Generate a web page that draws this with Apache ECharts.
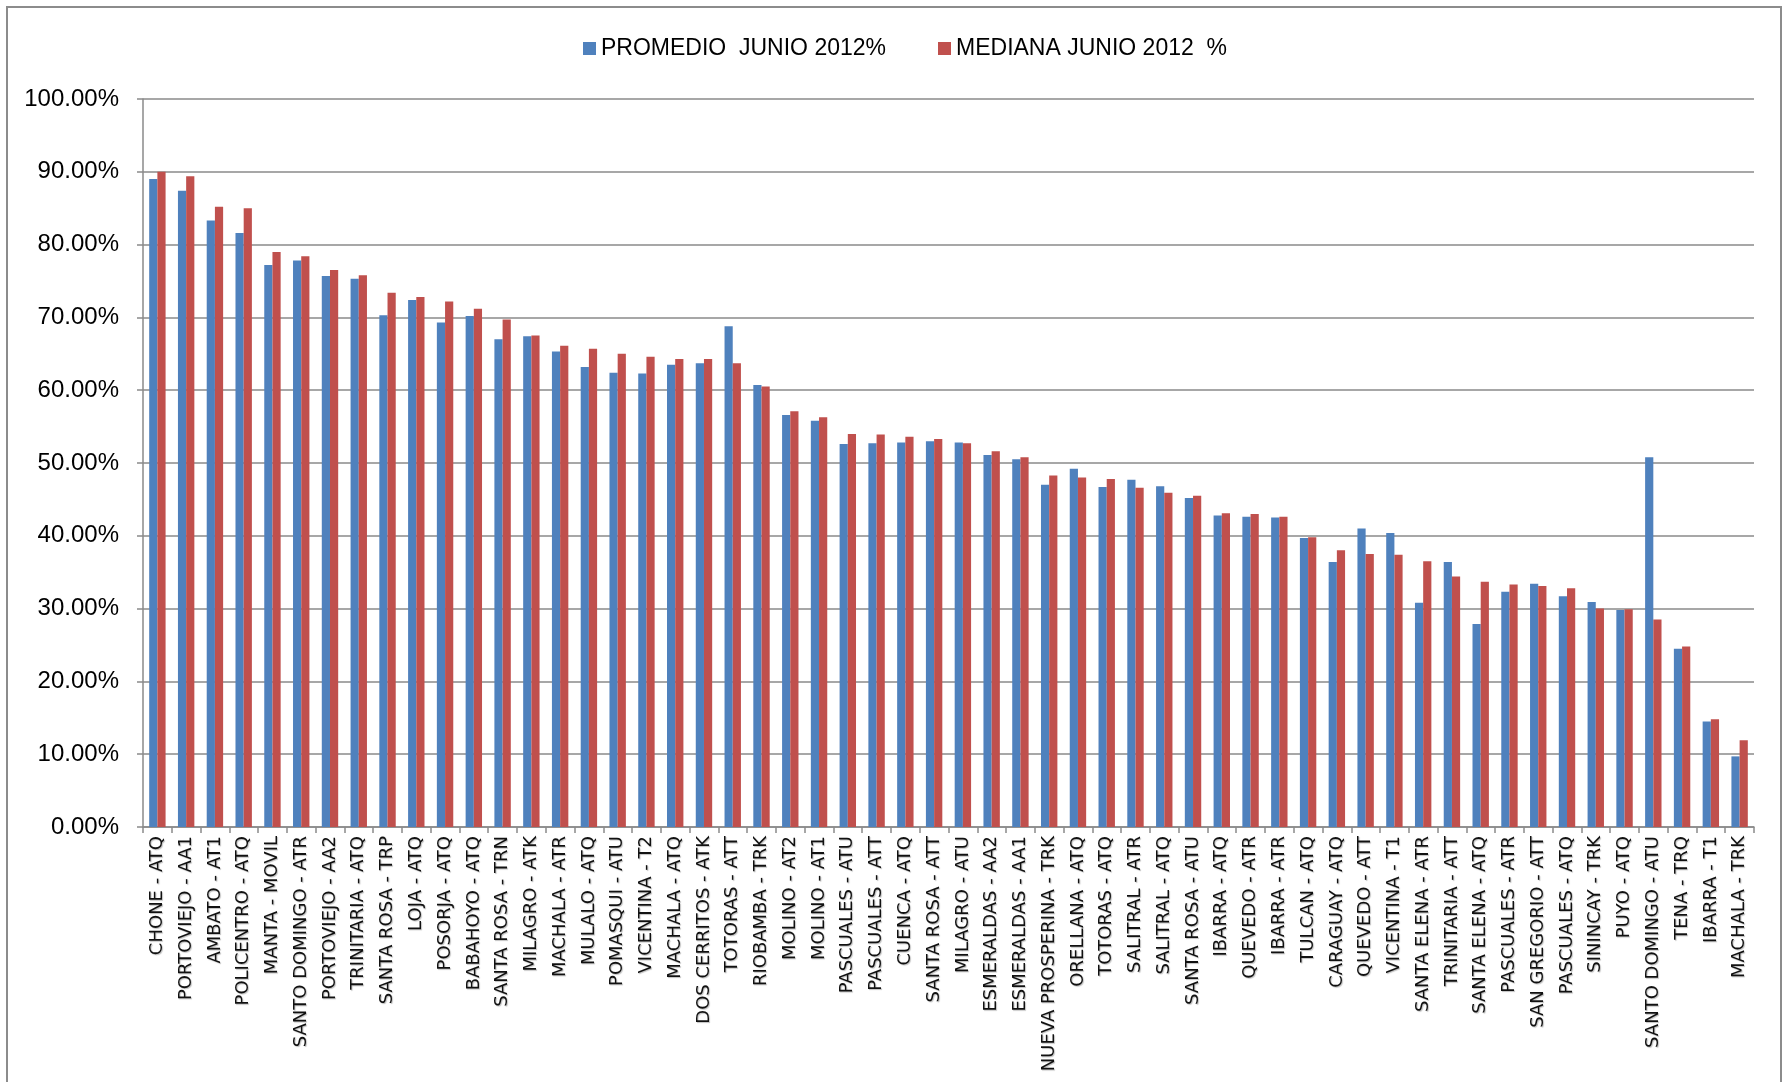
<!DOCTYPE html>
<html>
<head>
<meta charset="utf-8">
<script src="https://cdn.jsdelivr.net/npm/echarts@6/dist/echarts.min.js"></script>
<style>
html,body{margin:0;padding:0;background:#fff;}
#chart{width:1784px;height:1082px;}
</style>
</head>
<body>
<div id="chart"></div>
<script>
const categories = [
  'CHONE - ATQ','PORTOVIEJO - AA1','AMBATO - AT1','POLICENTRO - ATQ','MANTA - MOVIL',
  'SANTO DOMINGO - ATR','PORTOVIEJO - AA2','TRINITARIA - ATQ','SANTA ROSA - TRP','LOJA - ATQ',
  'POSORJA - ATQ','BABAHOYO - ATQ','SANTA ROSA - TRN','MILAGRO - ATK','MACHALA - ATR',
  'MULALO - ATQ','POMASQUI - ATU','VICENTINA - T2','MACHALA - ATQ','DOS CERRITOS - ATK',
  'TOTORAS - ATT','RIOBAMBA - TRK','MOLINO - AT2','MOLINO - AT1','PASCUALES - ATU',
  'PASCUALES - ATT','CUENCA - ATQ','SANTA ROSA - ATT','MILAGRO - ATU','ESMERALDAS - AA2',
  'ESMERALDAS - AA1','NUEVA PROSPERINA - TRK','ORELLANA - ATQ','TOTORAS - ATQ','SALITRAL - ATR',
  'SALITRAL - ATQ','SANTA ROSA - ATU','IBARRA - ATQ','QUEVEDO - ATR','IBARRA - ATR',
  'TULCAN - ATQ','CARAGUAY - ATQ','QUEVEDO - ATT','VICENTINA - T1','SANTA ELENA - ATR',
  'TRINITARIA - ATT','SANTA ELENA - ATQ','PASCUALES - ATR','SAN GREGORIO - ATT','PASCUALES - ATQ',
  'SININCAY - TRK','PUYO - ATQ','SANTO DOMINGO - ATU','TENA - TRQ','IBARRA - T1','MACHALA - TRK'
];
const promedio = [
  89.0, 87.4, 83.3, 81.6, 77.2, 77.8, 75.7, 75.3, 70.3, 72.4,
  69.3, 70.2, 67.0, 67.4, 65.3, 63.2, 62.4, 62.3, 63.5, 63.7,
  68.8, 60.7, 56.6, 55.8, 52.6, 52.7, 52.8, 53.0, 52.8, 51.1,
  50.5, 47.0, 49.2, 46.7, 47.7, 46.8, 45.2, 42.8, 42.6, 42.5,
  39.7, 36.4, 41.0, 40.4, 30.8, 36.4, 27.9, 32.3, 33.4, 31.7,
  30.9, 29.8, 50.8, 24.5, 14.5, 9.7
];
const mediana = [
  90.0, 89.4, 85.2, 85.0, 79.0, 78.4, 76.5, 75.8, 73.4, 72.8,
  72.2, 71.2, 69.7, 67.5, 66.1, 65.7, 65.0, 64.6, 64.3, 64.3,
  63.7, 60.5, 57.1, 56.3, 54.0, 53.9, 53.6, 53.3, 52.7, 51.6,
  50.8, 48.3, 48.0, 47.8, 46.6, 45.9, 45.5, 43.1, 43.0, 42.6,
  39.8, 38.0, 37.5, 37.4, 36.5, 34.4, 33.7, 33.3, 33.1, 32.8,
  30.0, 29.9, 28.5, 24.8, 14.8, 11.9
];
const seriesNames = ['PROMEDIO  JUNIO 2012%', 'MEDIANA JUNIO 2012  %'];

const chart = echarts.init(document.getElementById('chart'), null, {renderer: 'canvas'});
const gridColor = '#8a8a8a';
chart.setOption({
  backgroundColor: '#fff',
  animation: false,
  graphic: [{
    type: 'rect',
    shape: {x: 7, y: 7, width: 1774, height: 1090},
    style: {fill: 'none', stroke: '#8c8c8c', lineWidth: 2},
    silent: true
  }],
  legend: {
    top: 32,
    left: 578,
    itemWidth: 13,
    itemHeight: 13,
    itemGap: 52,
    icon: 'rect',
    textStyle: {fontFamily: 'Liberation Sans, Arial, sans-serif', fontSize: 23, color: '#000'},
    data: seriesNames
  },
  grid: {left: 143, right: 30, top: 99, bottom: 255, containLabel: false},
  xAxis: {
    type: 'category',
    data: categories,
    axisLine: {lineStyle: {color: gridColor, width: 1.5}},
    axisTick: {show: true, alignWithLabel: false, length: 6, lineStyle: {color: gridColor, width: 1.5}},
    axisLabel: {
      rotate: 90,
      interval: 0,
      margin: 9,
      fontFamily: 'DejaVu Sans, sans-serif',
      fontSize: 18,
      color: '#111',
      textShadowColor: 'rgba(0,0,0,0.25)',
      textShadowBlur: 1,
      textShadowOffsetX: 1,
      textShadowOffsetY: 1
    }
  },
  yAxis: {
    type: 'value',
    min: 0,
    max: 100,
    interval: 10,
    axisLine: {show: true, lineStyle: {color: gridColor, width: 1.5}},
    axisTick: {show: true, length: 6, lineStyle: {color: gridColor, width: 1.5}},
    splitLine: {show: true, lineStyle: {color: gridColor, width: 1.5}},
    axisLabel: {
      margin: 24,
      fontFamily: 'Liberation Sans, Arial, sans-serif',
      fontSize: 24,
      color: '#000',
      formatter: v => v.toFixed(2) + '%'
    }
  },
  series: [
    {name: seriesNames[0], type: 'bar', data: promedio, barWidth: 8.2, barGap: '0%',
     itemStyle: {color: '#4F81BD'}},
    {name: seriesNames[1], type: 'bar', data: mediana, barWidth: 8.2, barGap: '0%',
     itemStyle: {color: '#C0504D'}}
  ]
});
</script>
</body>
</html>
